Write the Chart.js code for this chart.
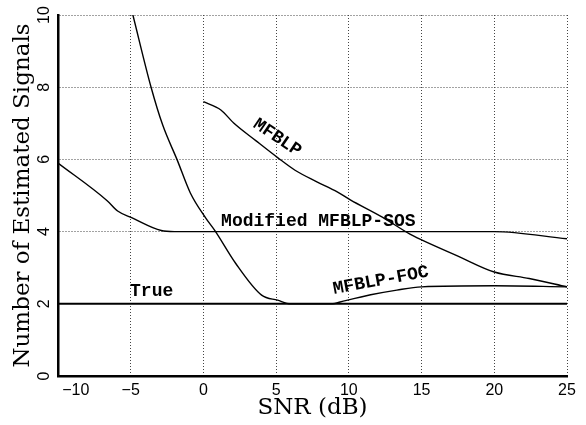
<!DOCTYPE html>
<html>
<head>
<meta charset="utf-8">
<script src="https://cdn.jsdelivr.net/npm/chart.js@4"></script>
<style>
  html, body { margin: 0; padding: 0; background: #fff; }
  #wrap { width: 586px; height: 425px; }
</style>
</head>
<body>
<div id="wrap"><canvas id="grafica"></canvas></div>
<script>
// values (x = SNR in dB, y = number of estimated signals)
const trueX = [-10, 25];
const trueY = [2, 2];

const sosX = [-10, -6.6, -5.9, -4.9, -2.9, -2, 20, 25];
const sosY = [5.9, 4.85, 4.57, 4.38, 4.03, 4.0, 4.0, 3.8];

const focX = [-4.85, -3.6, -2.8, -1.8, -0.9, 0.15, 0.8, 2.2, 4.0, 5.1, 6.0, 8.9, 9.4, 11.5, 13.3, 15, 20, 25];
const focY = [10, 8.0, 6.95, 5.98, 5.07, 4.38, 4.02, 3.13, 2.24, 2.1, 2.0, 2.0, 2.05, 2.25, 2.38, 2.47, 2.5, 2.47];

const mfblpX = [0, 1.2, 2.1, 3.6, 5.1, 6.3, 7.8, 9.2, 10.1, 12.3, 14.2, 15, 17.5, 20, 22.4, 25];
const mfblpY = [7.6, 7.37, 7.0, 6.52, 6.05, 5.7, 5.38, 5.1, 4.88, 4.4, 3.93, 3.77, 3.32, 2.88, 2.7, 2.47];

const xTicks = [-10, -5, 0, 5, 10, 15, 20, 25];
const yTicks = [0, 2, 4, 6, 8, 10];

// curve labels, placed in data units
const etiquetas = [
  { text: 'True', x: -3.56, y: 2.35, angle: 0 },
  { text: 'Modified MFBLP-SOS', x: 7.9, y: 4.27, angle: 0 },
  { text: 'MFBLP', x: 5.07, y: 6.6, angle: 34 },
  { text: 'MFBLP-FOC', x: 12.2, y: 2.64, angle: -10.5 }
];

const pares = (xs, ys) => xs.map((x, i) => ({ x: x, y: ys[i] }));

const etiquetasPlugin = {
  id: 'etiquetas',
  afterDatasetsDraw(chart) {
    const ctx = chart.ctx;
    const sx = chart.scales.x, sy = chart.scales.y;
    ctx.save();
    ctx.fillStyle = '#000';
    ctx.font = 'bold 18px "Liberation Mono"';
    ctx.textAlign = 'center';
    ctx.textBaseline = 'middle';
    etiquetas.forEach(e => {
      ctx.save();
      ctx.translate(sx.getPixelForValue(e.x), sy.getPixelForValue(e.y));
      ctx.rotate(e.angle * Math.PI / 180);
      ctx.fillText(e.text, 0, 0);
      ctx.restore();
    });
    ctx.restore();
  }
};

const lineaBase = { showLine: true, pointRadius: 0, borderColor: '#000', borderWidth: 1.4, fill: false, cubicInterpolationMode: 'monotone' };

const ctx = document.getElementById('grafica').getContext('2d');
new Chart(ctx, {
  type: 'scatter',
  data: {
    datasets: [
      Object.assign({}, lineaBase, { label: 'True', data: pares(trueX, trueY), borderWidth: 2 }),
      Object.assign({}, lineaBase, { label: 'Modified MFBLP-SOS', data: pares(sosX, sosY) }),
      Object.assign({}, lineaBase, { label: 'MFBLP-FOC', data: pares(focX, focY) }),
      Object.assign({}, lineaBase, { label: 'MFBLP', data: pares(mfblpX, mfblpY) })
    ]
  },
  options: {
    responsive: true,
    maintainAspectRatio: false,
    animation: false,
    layout: { padding: { top: 15, right: 19, left: 0, bottom: 0 } },
    plugins: { legend: { display: false }, tooltip: { enabled: false } },
    scales: {
      x: {
        type: 'linear',
        min: -10,
        max: 25,
        afterBuildTicks: s => { s.ticks = xTicks.map(v => ({ value: v })); },
        afterFit: s => { s.height = 49; },
        grid: { color: '#444', lineWidth: 1, drawTicks: false },
        border: { color: '#000', width: 2.5, dash: [1, 2] },
        ticks: {
          padding: 5,
          color: '#000',
          font: { family: '"Liberation Sans"', size: 16 },
          maxRotation: 0,
          callback: v => (v === -10 ? '        ' : '') + String(v).replace('-', '\u2212')
        },
        title: {
          display: true,
          text: 'SNR (dB)',
          color: '#000',
          font: { family: '"DejaVu Serif"', size: 23 },
          padding: { top: 0, bottom: 3 }
        }
      },
      y: {
        type: 'linear',
        min: 0,
        max: 10,
        afterBuildTicks: s => { s.ticks = yTicks.map(v => ({ value: v })); },
        afterFit: s => { s.width = 58; },
        grid: { color: '#444', lineWidth: 1, drawTicks: false },
        border: { color: '#000', width: 2.5, dash: [1, 2] },
        ticks: {
          padding: 5,
          color: '#000',
          minRotation: 90,
          maxRotation: 90,
          crossAlign: 'center',
          font: { family: '"Liberation Sans"', size: 16 }
        },
        title: {
          display: true,
          text: 'Number of Estimated Signals',
          color: '#000',
          font: { family: '"DejaVu Serif"', size: 23 },
          padding: { top: 9, bottom: 0 }
        }
      }
    }
  },
  plugins: [etiquetasPlugin]
});
</script>
</body>
</html>
